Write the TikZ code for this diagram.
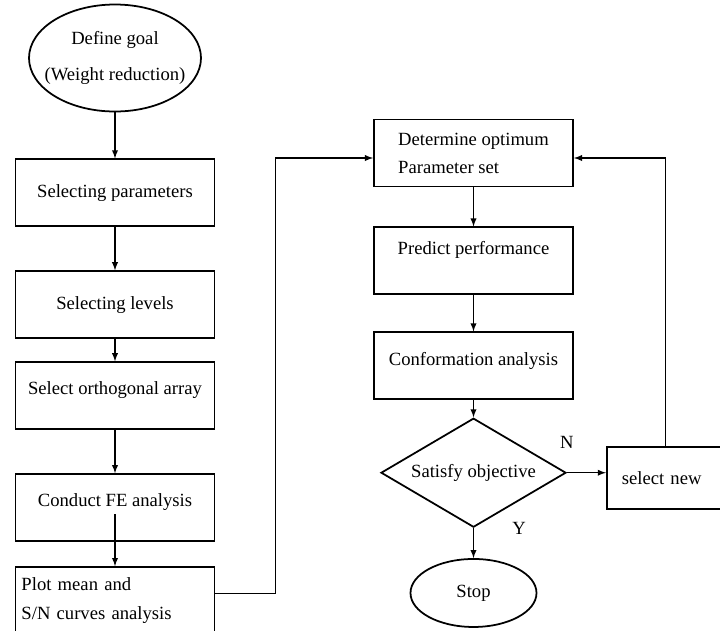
\documentclass[tikz,border=0pt]{standalone}
\usepackage{fontspec}
\setmainfont{Liberation Serif}
\usetikzlibrary{shapes, arrows, positioning}

\begin{document}
\begin{tikzpicture}[>=latex, node distance=0.9cm, font=\fontsize{10.6pt}{16pt}\selectfont,
        box/.style={draw, rectangle, line width=1.1pt, minimum width=3.98cm, minimum height=1.34cm, align=center},
        term/.style={draw, ellipse, line width=1pt, inner sep=0pt, align=center},
        line/.style={->, line width=0.6pt}]
        \clip (0,0) rectangle (14.4,-12.6);
        \node (goal) [term, inner xsep=-0.2cm, minimum width=3.44cm, minimum height=2.14cm] at (2.3,-1.16) {Define goal\\[4pt](Weight reduction)};
        \node (params) [box, below=0.92cm of goal] {Selecting parameters};
        \node (levels) [box, below=0.86cm of params] {Selecting levels};
        \node (array) [box, below=0.44cm of levels, text depth=0.3cm] {Select orthogonal array};
        \node (fe) [box, below=0.86cm of array, text depth=0.3cm] {Conduct FE analysis};
        \node (plot) [box, below=0.48cm of fe, text width=3.74cm, align=left] {Plot mean and\\S/N curves analysis};

        \node (optimum) [box, align=left] at (9.47,-3.06) {Determine optimum\\Parameter set};
        \node (predict) [box, below=0.78cm of optimum, text depth=0.53cm] {Predict performance};
        \node (confirm) [box, below=0.72cm of predict, text depth=0.29cm] {Conformation analysis};
        \node (decide) [draw, diamond, line width=1pt, aspect=1.7, inner sep=0pt, minimum width=3.7cm, minimum height=2.18cm, below=0.34cm of confirm] {Satisfy objective};
        \node (stop) [term, minimum width=2.52cm, minimum height=1.36cm, below=0.6cm of decide] {Stop};
        \node (newset) [box, minimum width=3cm, minimum height=1.24cm, text width=2.4cm, inner xsep=0.3cm, align=left, right=0.78cm of decide, yshift=-0.1cm] {select new};

        \draw[line] (goal) -- (params);
        \draw[line] (params) -- (levels);
        \draw[line] (levels) -- (array);
        \draw[line] (array) -- (fe);
        \draw[line] ([yshift=0.56cm]fe.south) -- (plot);
        \draw[line] ([yshift=0.14cm]plot.east) -- ++(1.2,0) |- ([yshift=-0.1cm]optimum.west);
        \draw[line] (optimum) -- (predict);
        \draw[line] (predict) -- (confirm);
        \draw[line] (confirm) -- (decide);
        \draw[line] (decide) -- node[pos=0, right=0.65cm] {Y} (stop);
        \draw[line] (decide) -- node[pos=0, above=0.35cm] {N} (decide -| newset.west);
        \draw[line] ([xshift=-0.32cm]newset.north) |- ([yshift=-0.1cm]optimum.east);
    \end{tikzpicture}
\end{document}
